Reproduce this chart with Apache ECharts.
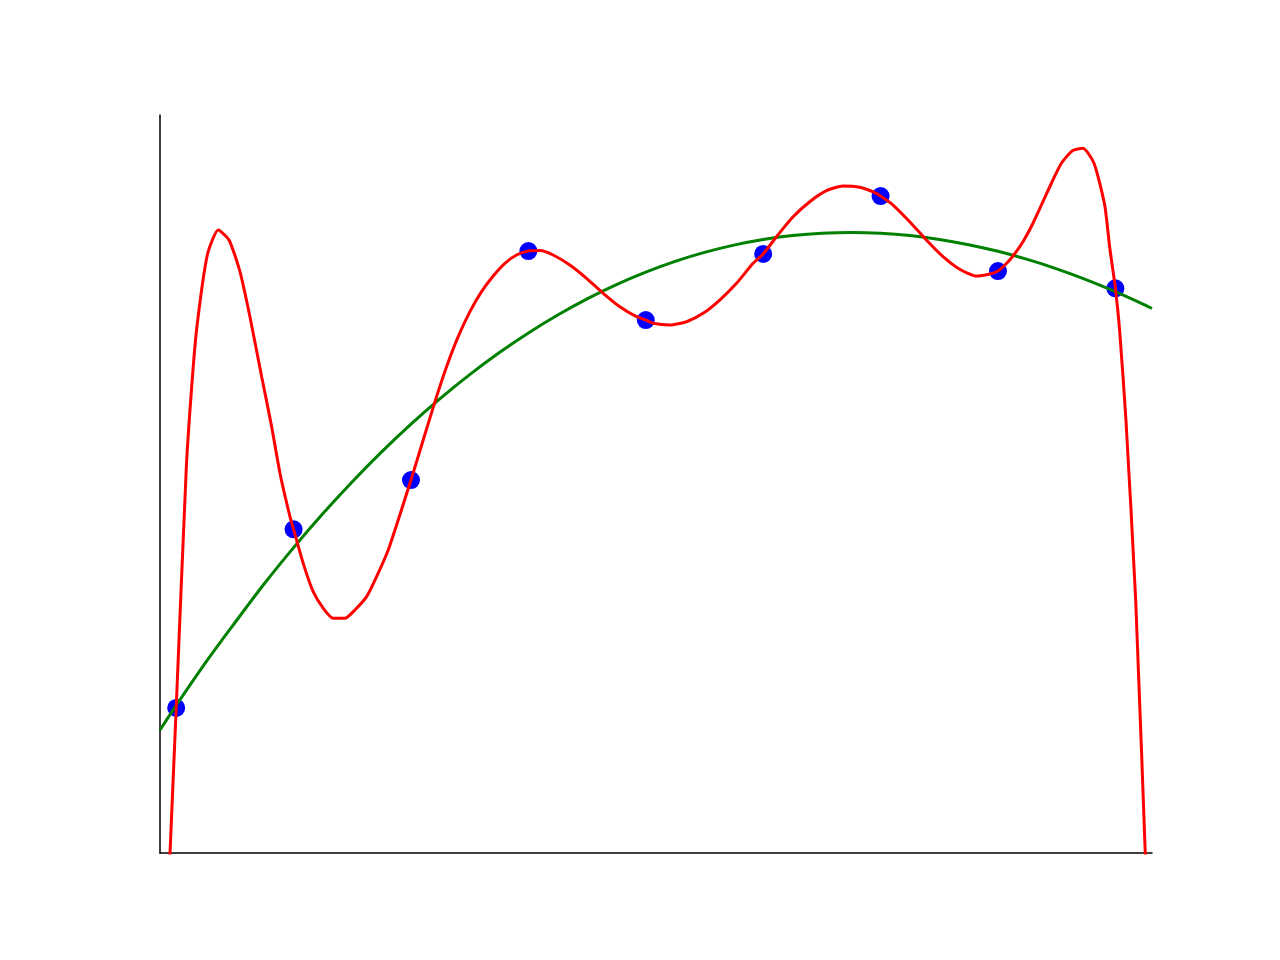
<!DOCTYPE html>
<html>
<head>
<meta charset="utf-8">
<script src="https://cdn.jsdelivr.net/npm/echarts@6/dist/echarts.min.js"></script>
<style>html,body{margin:0;padding:0;background:#fff}#c{width:1280px;height:960px}</style>
</head>
<body>
<div id="c"></div>
<script>
// sample points
var pointX = [0, 1, 2, 3, 4, 5, 6, 7, 8];
var pointY = [1.965, 4.386, 5.054, 8.157, 7.222, 8.117, 8.902, 7.886, 7.652];

// high-degree fit (red)
var redX = [-0.101, 0, 0.086, 0.132, 0.175, 0.265, 0.358, 0.450, 0.543, 0.628, 0.728, 0.813, 0.884, 0.969, 1.0,
  1.082, 1.167, 1.253, 1.338, 1.437, 1.522, 1.622, 1.707, 1.806, 1.891, 2.0, 2.104, 2.204, 2.303, 2.402,
  2.502, 2.601, 2.700, 2.800, 2.899, 3.0, 3.098, 3.211, 3.353, 3.495, 3.637, 3.779, 3.921, 4.0, 4.063,
  4.205, 4.347, 4.488, 4.630, 4.773, 4.914, 5.0, 5.113, 5.255, 5.397, 5.539, 5.680, 5.822, 5.965, 6.0,
  6.106, 6.248, 6.390, 6.532, 6.674, 6.816, 6.930, 7.0, 7.072, 7.128, 7.213, 7.298, 7.383, 7.468, 7.540,
  7.634, 7.724, 7.818, 7.909, 7.951, 8.0, 8.036, 8.090, 8.173, 8.276];
var redY = [-1.80, 1.965, 5.217, 6.318, 7.110, 8.103, 8.442, 8.306, 7.877, 7.267, 6.454, 5.777, 5.145, 4.557, 4.386,
  3.925, 3.541, 3.316, 3.180, 3.180, 3.293, 3.473, 3.744, 4.106, 4.512, 5.054, 5.596, 6.115, 6.589, 6.996,
  7.335, 7.606, 7.818, 7.991, 8.103, 8.157, 8.164, 8.103, 7.967, 7.787, 7.584, 7.402, 7.267, 7.222, 7.177,
  7.154, 7.199, 7.313, 7.493, 7.720, 7.991, 8.117, 8.351, 8.622, 8.825, 8.974, 9.038, 9.020, 8.939, 8.902,
  8.780, 8.554, 8.306, 8.080, 7.909, 7.818, 7.846, 7.886, 7.988, 8.089, 8.283, 8.533, 8.825, 9.119, 9.346,
  9.516, 9.549, 9.346, 8.780, 8.215, 7.652, 7.087, 5.867, 3.428, -0.935];

// low-degree fit (green)
var greenX = [-0.138, 0, 0.25, 0.5, 0.75, 1, 1.25, 1.5, 1.75, 2, 2.25, 2.5, 2.75, 3, 3.25, 3.5, 3.75,
  4, 4.25, 4.5, 4.75, 5, 5.25, 5.5, 5.75, 6, 6.25, 6.5, 6.75, 7, 7.25, 7.5, 7.75, 8, 8.25, 8.312];
var greenY = [1.667, 2.000, 2.579, 3.120, 3.648, 4.138, 4.599, 5.031, 5.435, 5.811, 6.160, 6.482, 6.778,
  7.047, 7.290, 7.509, 7.702, 7.871, 8.017, 8.138, 8.237, 8.313, 8.366, 8.398, 8.408, 8.397, 8.366,
  8.314, 8.243, 8.153, 8.043, 7.916, 7.770, 7.606, 7.426, 7.378];

function pairs(xs, ys) { return xs.map(function (x, i) { return [x, ys[i]]; }); }

var chart = echarts.init(document.getElementById('c'), null, { renderer: 'canvas' });
var hiddenAxis = {
  axisTick: { show: false },
  axisLabel: { show: false },
  splitLine: { show: false }
};
chart.setOption({
  animation: false,
  backgroundColor: '#ffffff',
  grid: { left: 160, right: 128, top: 115, bottom: 107 },
  xAxis: Object.assign({
    type: 'value', min: -0.138, max: 8.312,
    axisLine: { show: true, onZero: false, lineStyle: { color: '#000', width: 1.5 } }
  }, hiddenAxis),
  yAxis: Object.assign({
    type: 'value', min: 0, max: 10,
    axisLine: { show: true, onZero: false, lineStyle: { color: '#000', width: 1.5 } }
  }, hiddenAxis),
  series: [
    {
      type: 'scatter', data: pairs(pointX, pointY), symbol: 'circle', symbolSize: 18,
      itemStyle: { color: '#0000ff', opacity: 1 }, z: 1, silent: true
    },
    {
      type: 'line', data: pairs(greenX, greenY), smooth: 0.3, showSymbol: false,
      lineStyle: { color: '#008000', width: 3 }, z: 2, clip: true, silent: true
    },
    {
      type: 'line', data: pairs(redX, redY), smooth: 0.2, showSymbol: false,
      lineStyle: { color: '#ff0000', width: 3 }, z: 3, clip: true, silent: true
    }
  ]
});
</script>
</body>
</html>
